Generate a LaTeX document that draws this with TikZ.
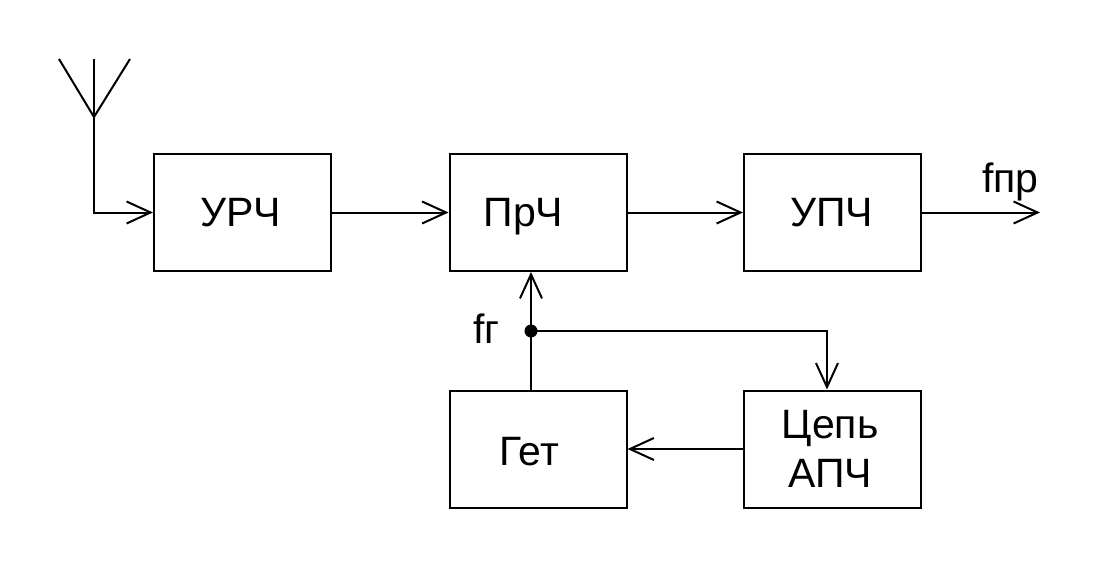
\documentclass[tikz,border=0pt]{standalone}
\usepackage{fontspec}
\setmainfont{Liberation Sans}
\usetikzlibrary{arrows.meta}
\begin{document}
\begin{tikzpicture}[x=1pt,y=-1pt,
  line width=2pt,
  blk/.style={draw, rectangle, inner sep=0pt, minimum width=177pt, minimum height=117pt},
  txt/.style={inner sep=0pt, font=\fontsize{41}{49}\selectfont, text height=29.5pt, text depth=0pt},
  lbl/.style={inner sep=0pt, font=\fontsize{41}{49}\selectfont, anchor=base west},
  arr/.style={-{Straight Barb[length=24pt,width=22pt,line width=2pt]}}]
\useasboundingbox (0,0) rectangle (1098,567);
\node[blk] (urch) at (242.5,212.5) {};
\node[blk] (prch) at (538,212.5) {};
\node[blk] (upch) at (832.5,212.5) {};
\node[blk] (get) at (538,449) {};
\node[blk] (apch) at (832.5,449) {};
\node[txt] (urcht) at (240.5,212) {УРЧ};
\node[txt] (prcht) at (523.5,212) {ПрЧ};
\node[txt] (upcht) at (831.5,212) {УПЧ};
\node[txt] (gett) at (529,450.5) {Гет};
\node[lbl, anchor=base] (apch1) at (830,438) {Цепь};
\node[lbl, anchor=base] (apch2) at (830,487) {АПЧ};
% antenna
\coordinate (ant) at (94,117);
\coordinate (antL) at (59,59);
\coordinate (antR) at (130,59);
\coordinate (antT) at (94,59);
\draw (antL) -- (ant) -- (antR);
\draw[arr] (antT) |- (urch.west);
% signal chain
\draw[arr] (urch.east) -- (prch.west);
\draw[arr] (prch.east) -- (upch.west);
\coordinate (out) at (1040,212.5);
\draw[arr] (upch.east) -- (out);
\node[lbl] (fpr) at (981,193) {fпр};
% heterodyne loop
\coordinate (j) at (531,331);
\coordinate (k) at (827,331);
\draw[arr] (j |- get.north) -- (j |- prch.south);
\fill (j) circle (6.5pt);
\draw[arr] (j) -- (k) -- (k |- apch.north);
\draw[arr] (apch.west) -- (get.east);
\node[lbl] (fg) at (472,343) {fг};
\end{tikzpicture}
\end{document}
